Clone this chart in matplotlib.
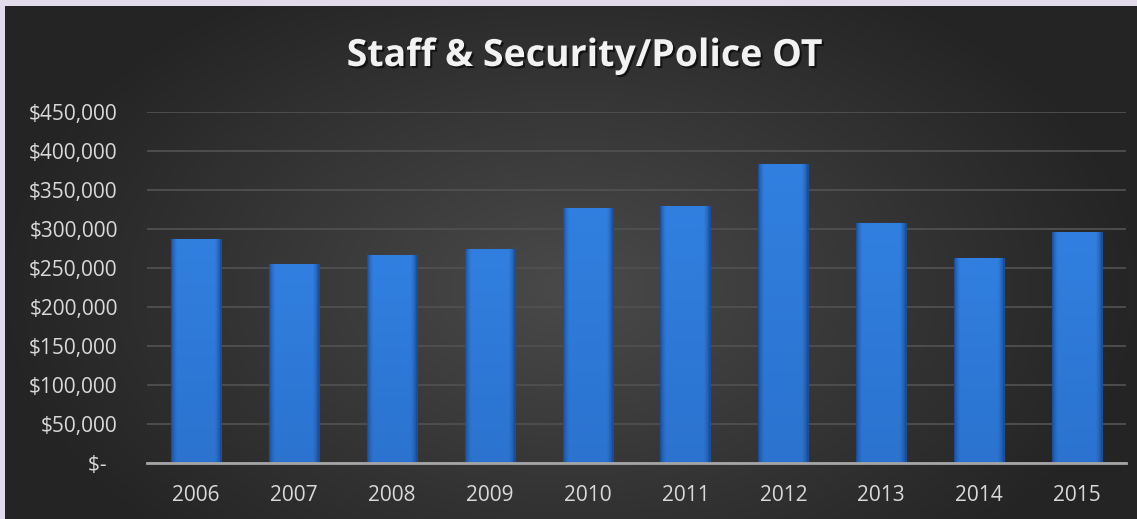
import numpy as np
import matplotlib
matplotlib.use("Agg")
import matplotlib.pyplot as plt
import matplotlib.patheffects as pe
from matplotlib.ticker import FuncFormatter, MultipleLocator

years = ["2006", "2007", "2008", "2009", "2010", "2011", "2012", "2013", "2014", "2015"]
overtime = [286400, 254700, 266300, 274000, 326500, 330000, 383000, 308200, 263300, 295400]
title = "Staff & Security/Police OT"

W, H = 1137, 519
fig = plt.figure(figsize=(W / 100, H / 100), dpi=100)
fig.patch.set_facecolor("#E1DBEB")

# dark panel with radial gradient
bg = fig.add_axes([5 / W, 0, 1 - 5 / W, 1 - 6 / H])
bg.set_axis_off()
yy, xx = np.mgrid[0:1:300j, 0:1:600j]
r = np.sqrt(((xx - 0.5) / 0.55) ** 2 + ((yy - 0.55) / 0.75) ** 2)
shade = np.clip(0.29 - 0.16 * r, 0.145, 0.29)
bg.imshow(np.dstack([shade, shade, shade]), aspect="auto", extent=[0, 1, 0, 1],
          interpolation="bicubic")
bg.set_xlim(0, 1)
bg.set_ylim(0, 1)

ax = fig.add_axes([147 / W, 1 - 462.7 / H, (1126 - 147) / W, (462.7 - 112) / H])
ax.set_facecolor("none")
x = np.arange(len(years))
bars = ax.bar(x, overtime, width=0.51, color="#2C78D6", edgecolor="#1D4F93",
              linewidth=0.8, zorder=3)

# shaded fill inside each bar
gx = np.linspace(0, 1, 100)
gy = np.linspace(0, 1, 100)
GX, GY = np.meshgrid(gx, gy)
edge = np.minimum(GX, 1 - GX)
horiz = np.clip(edge / 0.12, 0, 1) ** 0.6
vert = 0.78 + 0.22 * GY
top = np.array([0.19, 0.50, 0.88])
dark = np.array([0.10, 0.28, 0.56])
f = (horiz * vert)[..., None]
img = dark + (top - dark) * f
for b in bars:
    x0, w, h = b.get_x(), b.get_width(), b.get_height()
    im = ax.imshow(img, extent=[x0, x0 + w, 0, h], origin="lower", aspect="auto",
                   zorder=3.5, interpolation="bilinear")
    im.set_clip_path(b)

ax.set_xlim(-0.5, len(years) - 0.5)
ax.set_ylim(0, 450000)
ax.yaxis.set_major_locator(MultipleLocator(50000))
ax.yaxis.set_major_formatter(FuncFormatter(
    lambda v, p: "$-  " if v == 0 else f"${v:,.0f}"))
ax.set_xticks(x)
ax.set_xticklabels(years)
ax.grid(axis="y", color="#505050", linewidth=1.3, zorder=0)
ax.set_axisbelow(True)
for s in ["top", "right", "left"]:
    ax.spines[s].set_visible(False)
ax.spines["bottom"].set_color("#A6A6A6")
ax.spines["bottom"].set_linewidth(2)
ax.spines["bottom"].set_zorder(5)
ax.tick_params(axis="both", length=0, colors="#D9D9D9", labelsize=15)
ax.tick_params(axis="y", pad=21)
ax.tick_params(axis="x", pad=16)
for lab in ax.get_xticklabels() + ax.get_yticklabels():
    lab.set_fontfamily("Open Sans")

fig.text(0.514, 1 - 56 / H, title, ha="center", va="center", color="#F2F2F2",
         fontsize=27, fontweight="bold", family="Open Sans",
         path_effects=[pe.withSimplePatchShadow(offset=(1.5, -1.5), alpha=0.6,
                                                 shadow_rgbFace="black")])

fig.savefig("out.png", dpi=100, facecolor=fig.get_facecolor())
